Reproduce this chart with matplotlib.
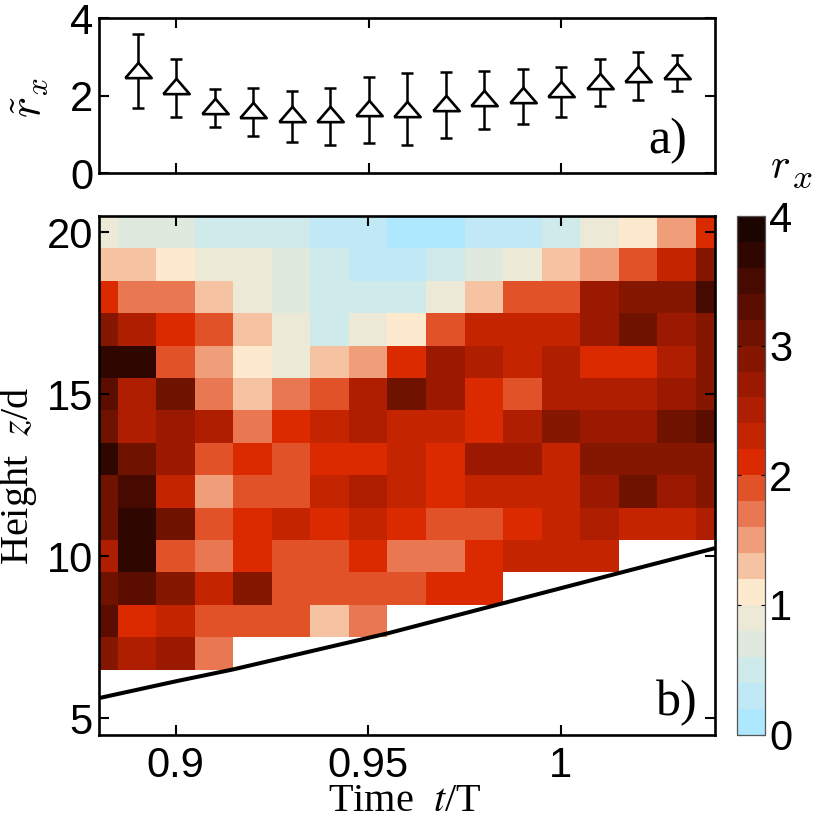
import numpy as np
import matplotlib
matplotlib.use("Agg")
import matplotlib.pyplot as plt
from matplotlib.colors import ListedColormap, BoundaryNorm

nan = np.nan
W, H = 818, 821

# panel a) data
t_points = [0.89, 0.90, 0.91, 0.92, 0.93, 0.94, 0.95, 0.96, 0.97, 0.98, 0.99, 1.00, 1.01, 1.02, 1.03]
r_mean = [2.67, 2.25, 1.73, 1.63, 1.52, 1.52, 1.68, 1.67, 1.81, 1.94, 2.03, 2.17, 2.38, 2.55, 2.63]
r_upper = [3.59, 2.94, 2.18, 2.21, 2.12, 2.21, 2.49, 2.60, 2.61, 2.65, 2.69, 2.75, 2.96, 3.12, 3.05]
r_lower = [1.69, 1.46, 1.20, 0.96, 0.82, 0.73, 0.77, 0.73, 0.92, 1.14, 1.26, 1.46, 1.73, 1.89, 2.12]

# panel b) data
t_cells = [0.88, 0.89, 0.90, 0.91, 0.92, 0.93, 0.94, 0.95, 0.96, 0.97, 0.98, 0.99, 1.00, 1.01, 1.02, 1.03, 1.04]
z_cells = [20, 19, 18, 17, 16, 15, 14, 13, 12, 11, 10, 9, 8, 7]
rx_20 = [0.9, 0.7, 0.7, 0.5, 0.5, 0.5, 0.3, 0.3, 0.1, 0.1, 0.3, 0.3, 0.5, 0.9, 1.1, 1.5, 2.1]
rx_19 = [1.3, 1.3, 1.1, 0.9, 0.9, 0.7, 0.5, 0.3, 0.3, 0.5, 0.7, 0.9, 1.3, 1.5, 1.9, 2.3, 2.9]
rx_18 = [2.1, 1.7, 1.7, 1.3, 0.9, 0.7, 0.5, 0.5, 0.5, 0.9, 1.3, 1.9, 1.9, 2.7, 2.9, 2.9, 3.5]
rx_17 = [2.9, 2.5, 2.1, 1.9, 1.3, 0.9, 0.5, 0.9, 1.1, 1.9, 2.3, 2.3, 2.3, 2.7, 3.1, 2.7, 2.9]
rx_16 = [3.7, 3.7, 1.9, 1.5, 1.1, 0.9, 1.3, 1.5, 2.1, 2.7, 2.5, 2.3, 2.5, 2.1, 2.1, 2.5, 2.9]
rx_15 = [3.3, 2.5, 3.1, 1.7, 1.3, 1.7, 1.9, 2.5, 3.1, 2.7, 2.1, 1.9, 2.5, 2.5, 2.5, 2.7, 2.9]
rx_14 = [3.1, 2.5, 2.7, 2.5, 1.7, 2.1, 2.3, 2.5, 2.3, 2.3, 2.1, 2.5, 2.9, 2.7, 2.7, 3.1, 3.3]
rx_13 = [3.7, 3.1, 2.7, 1.9, 2.1, 1.9, 2.1, 2.1, 2.3, 2.1, 2.7, 2.7, 2.3, 2.9, 2.9, 2.9, 2.9]
rx_12 = [3.1, 3.5, 2.3, 1.5, 1.9, 1.9, 2.3, 2.5, 2.3, 2.1, 2.3, 2.3, 2.3, 2.7, 3.1, 2.7, 2.9]
rx_11 = [3.1, 3.7, 3.1, 1.9, 2.1, 2.3, 2.1, 2.3, 2.1, 1.9, 1.9, 2.1, 2.3, 2.5, 2.3, 2.3, 2.5]
rx_10 = [2.5, 3.7, 1.9, 1.7, 2.1, 1.9, 1.9, 2.1, 1.7, 1.7, 2.1, 2.3, 2.3, 2.3, nan, nan, nan]
rx_9 = [3.1, 3.3, 2.9, 2.3, 2.9, 1.9, 1.9, 1.9, 1.9, 2.1, 2.1, nan, nan, nan, nan, nan, nan]
rx_8 = [3.3, 2.1, 2.3, 1.9, 1.9, 1.9, 1.3, 1.7, nan, nan, nan, nan, nan, nan, nan, nan, nan]
rx_7 = [2.9, 2.5, 2.7, 1.7, nan, nan, nan, nan, nan, nan, nan, nan, nan, nan, nan, nan, nan]

interface_t = [0.88, 0.90, 0.915, 0.955, 0.985, 1.015, 1.04]
interface_z = [5.62, 6.14, 6.51, 7.62, 8.55, 9.48, 10.25]

level_colors = ['#ade8ff', '#c0e9f5', '#ceeaea', '#dfe9dd', '#ecead6',
                '#fde9cd', '#f5c3a2', '#f09e7a', '#e87752', '#e15229',
                '#dc2a00', '#c42400', '#af1e00', '#9a1900', '#851600',
                '#701200', '#5b0e00', '#460a00', '#300700', '#1c0400']
level_bounds = [0, 0.2, 0.4, 0.6, 0.8, 1.0, 1.2, 1.4, 1.6, 1.8, 2.0,
                2.2, 2.4, 2.6, 2.8, 3.0, 3.2, 3.4, 3.6, 3.8, 4.0]

plt.rcParams['font.family'] = ['Liberation Sans', 'DejaVu Sans']
SERIF = 'Liberation Serif'
LW = 1.9
TICK_FS = 30
LABEL_FS = 29
WIDE_TRIANGLE = [(-1, -0.58), (1, -0.58), (0, 0.58), (-1, -0.58)]


def rect(l, t, r, b):
    return [l / W, 1 - b / H, (r - l) / W, (b - t) / H]


fig = plt.figure(figsize=(W / 100, H / 100), dpi=100)
ax_a = fig.add_axes(rect(99, 18.3, 715, 173.3))
ax_b = fig.add_axes(rect(98.5, 216, 715, 734.5))
cax = fig.add_axes(rect(737, 216, 765, 734.5))

# panel a
yerr = [np.array(r_mean) - np.array(r_lower), np.array(r_upper) - np.array(r_mean)]
ax_a.errorbar(t_points, r_mean, yerr=yerr, fmt='none', ecolor='k', elinewidth=1.8,
              capsize=4.5, capthick=1.8, zorder=2)
ax_a.plot(t_points, r_mean, ls='none', marker=WIDE_TRIANGLE, ms=19, mfc='white', mec='k',
          mew=1.9, zorder=3)
ax_a.set_xlim(0.88, 1.04)
ax_a.set_ylim(0, 4)
ax_a.set_xticks([0.9, 0.95, 1.0])
ax_a.set_yticks([0, 2, 4])
ax_a.set_xticklabels([])
ax_a.tick_params(axis='both', direction='in', length=7, width=1.5, top=True,
                 right=True, labelsize=TICK_FS, pad=4)
ax_a.text(1.0278, 0.83, 'a)', family=SERIF, fontsize=36, ha='center', va='center')
fig.text(29 / W, 1 - 98 / H, r'$\tilde{r}_x$', rotation=90, fontsize=32,
         math_fontfamily='cm', ha='center', va='center')

# panel b
grid = np.ma.masked_invalid(np.array([rx_20, rx_19, rx_18, rx_17, rx_16, rx_15, rx_14,
                                      rx_13, rx_12, rx_11, rx_10, rx_9, rx_8, rx_7]))
cmap = ListedColormap(level_colors)
norm = BoundaryNorm(level_bounds, cmap.N)
mesh = ax_b.pcolormesh(t_cells, z_cells, grid, cmap=cmap, norm=norm, shading='nearest',
                       edgecolors='face', linewidth=0, rasterized=True)
ax_b.plot(interface_t, interface_z, color='k', lw=2.9, zorder=4, solid_capstyle='butt')
ax_b.set_xlim(0.88, 1.04)
ax_b.set_ylim(4.5, 20.5)
ax_b.set_xticks([0.9, 0.95, 1.0])
ax_b.set_xticklabels(['0.9', '0.95', '1'])
ax_b.set_yticks([5, 10, 15, 20])
ax_b.tick_params(axis='both', direction='in', length=7, width=1.5, top=True,
                 right=True, labelsize=TICK_FS, pad=4)
ax_b.tick_params(axis='x', pad=8)
ax_b.text(1.0301, 5.49, 'b)', family=SERIF, fontsize=36, ha='center', va='center')
fig.text(28.5 / W, 1 - 476 / H, 'Height  $z$/d', rotation=90, family=SERIF, fontsize=LABEL_FS,
         math_fontfamily='stix', ha='center', va='baseline', rotation_mode='anchor')
fig.text(405 / W, 1 - 811 / H, 'Time  $t$/T', family=SERIF, fontsize=LABEL_FS,
         math_fontfamily='stix', ha='center', va='baseline')

for ax in (ax_a, ax_b):
    for s in ax.spines.values():
        s.set_linewidth(LW)
        s.set_zorder(6)

# colorbar
cb = fig.colorbar(mesh, cax=cax, ticks=[0, 1, 2, 3, 4], spacing='proportional', drawedges=False)
cb.ax.minorticks_off()
cb.ax.tick_params(direction='in', length=3, width=0.8, left=True, right=True,
                  labelsize=TICK_FS, pad=3)
cb.outline.set_linewidth(0.9)
cb.outline.set_edgecolor('#555555')
fig.text(770 / W, 1 - 178 / H, r'$r$', fontsize=30, math_fontfamily='cm',
         ha='left', va='baseline')
fig.text(792 / W, 1 - 188 / H, r'$x$', fontsize=25, math_fontfamily='cm',
         ha='left', va='baseline')

fig.savefig('out.png', dpi=100)
